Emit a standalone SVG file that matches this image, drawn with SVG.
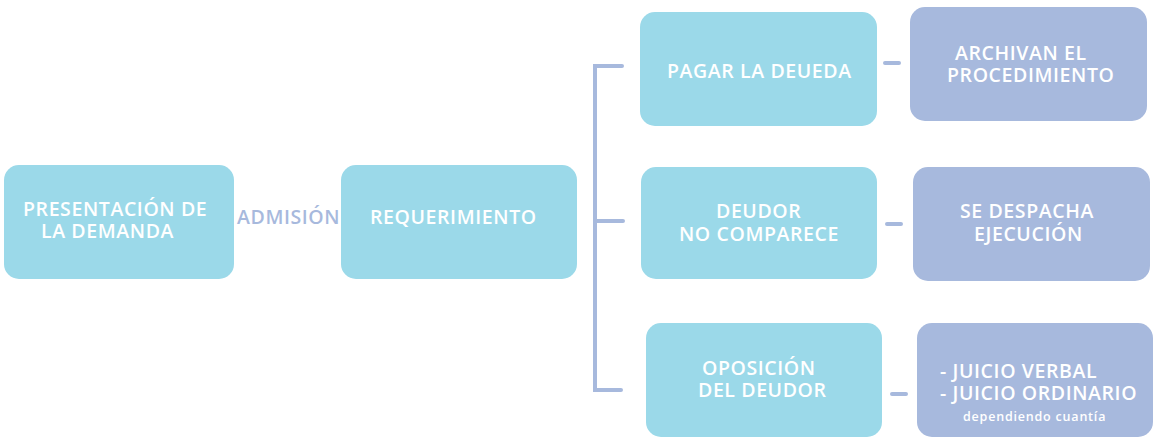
<svg xmlns="http://www.w3.org/2000/svg" width="1161" height="445" viewBox="0 0 1161 445">
<style>
.a{fill:#9bd9e9}
.b{fill:#a7b9dd}
text{font-family:"Open Sans","Liberation Sans",sans-serif;font-weight:600;font-size:19.5px;letter-spacing:0.6px;fill:#fff}
.c{stroke:#a7b9dd;stroke-width:4;fill:none;stroke-linecap:round}
</style>
<rect width="1161" height="445" fill="#fff"/>
<g id="connectors">
<path class="c" d="M622 66H595V390H621M595 221H623"/>
<path class="c" d="M885 63H899M887 224H901M892 394H906"/>
</g>
<g id="n1"><rect class="a" x="4" y="165" width="230" height="114" rx="15"/>
<text x="23" y="216">PRESENTACIÓN DE</text><text x="41" y="238">LA DEMANDA</text></g>
<g id="lbl"><text x="237" y="224" style="fill:#a7b9dd">ADMISIÓN</text></g>
<g id="n2"><rect class="a" x="341" y="165" width="236" height="114" rx="15"/>
<text x="370" y="224">REQUERIMIENTO</text></g>
<g id="n3"><rect class="a" x="640" y="12" width="237" height="114" rx="15"/>
<text x="667" y="78">PAGAR LA DEUEDA</text></g>
<g id="n4"><rect class="b" x="910" y="7" width="237" height="114" rx="15"/>
<text x="955" y="60">ARCHIVAN EL</text><text x="947" y="82">PROCEDIMIENTO</text></g>
<g id="n5"><rect class="a" x="641" y="167" width="236" height="112" rx="15"/>
<text x="716" y="218">DEUDOR</text><text x="679" y="241">NO COMPARECE</text></g>
<g id="n6"><rect class="b" x="913" y="167" width="237" height="114" rx="15"/>
<text x="960" y="218">SE DESPACHA</text><text x="974" y="241">EJECUCIÓN</text></g>
<g id="n7"><rect class="a" x="646" y="323" width="236" height="114" rx="15"/>
<text x="702" y="375">OPOSICIÓN</text><text x="698" y="397">DEL DEUDOR</text></g>
<g id="n8"><rect class="b" x="917" y="323" width="236" height="114" rx="15"/>
<text x="940" y="378">- JUICIO VERBAL</text><text x="940" y="400">- JUICIO ORDINARIO</text>
<text x="963" y="421" style="font-size:12.5px;letter-spacing:0.8px">dependiendo cuantía</text></g>
</svg>
